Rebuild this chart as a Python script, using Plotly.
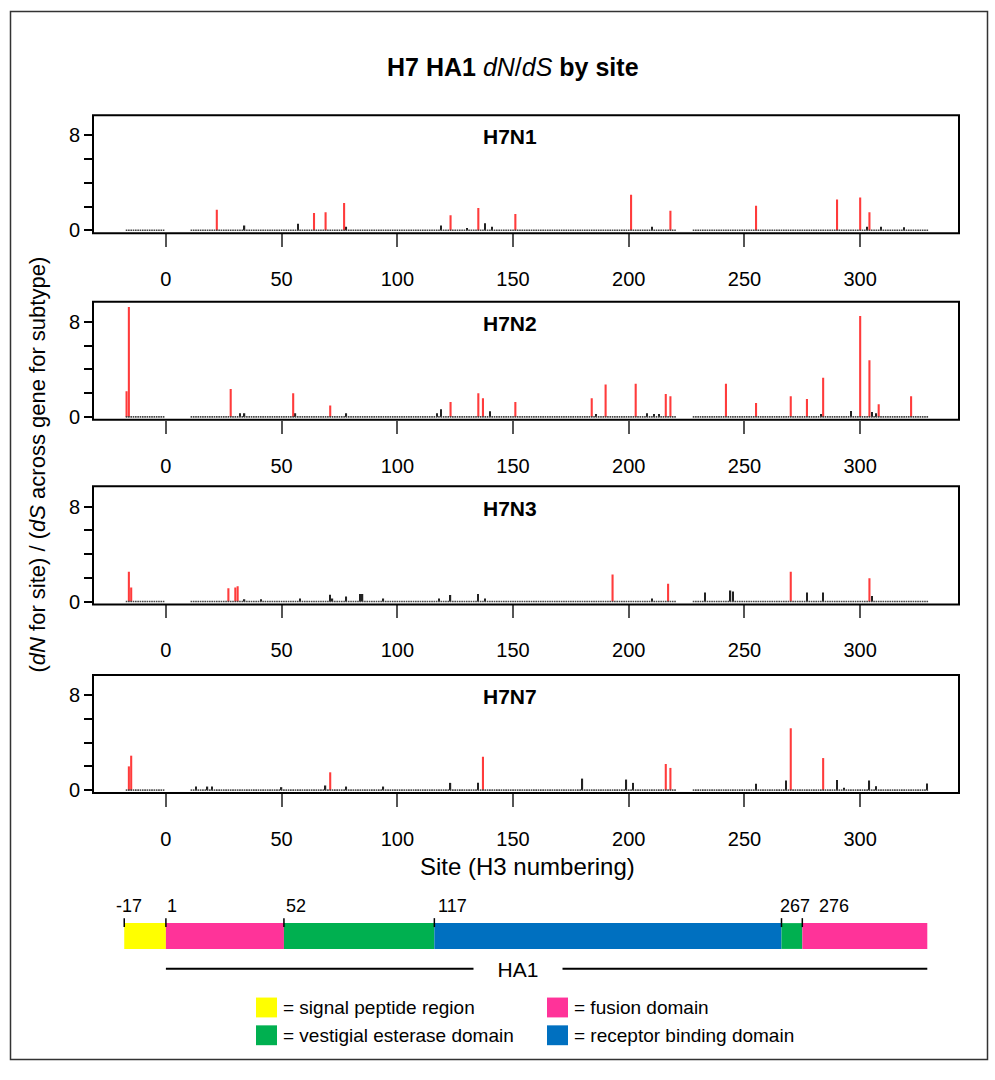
import plotly.graph_objects as go

W, H = 995, 1080

# Sites (H3 numbering) covered by the alignment in every subtype
SITE_RANGES = [(-17, -1), (11, 220), (228, 329)]
SUBTYPES = ["H7N1", "H7N2", "H7N3", "H7N7"]

# Sites whose dN/dS rises above zero, with the ratio; every other sampled site is 0
H7N1_SITES = [22, 34, 57, 64, 69, 77, 78, 119, 123, 130, 135, 138, 141, 151,
              201, 210, 218, 255, 290, 300, 303, 304, 309, 319]
H7N1_RATIOS = [1.73, 0.4, 0.55, 1.45, 1.53, 2.29, 0.3, 0.4, 1.26, 0.2, 1.87, 0.6, 0.3, 1.37,
               3.0, 0.3, 1.65, 2.06, 2.6, 2.76, 0.3, 1.53, 0.3, 0.25]
H7N1_SELECTED = [22, 64, 69, 77, 123, 135, 151, 201, 218, 255, 290, 300, 304]

H7N2_SITES = [-17, -16, 28, 32, 34, 55, 56, 71, 78, 117, 119, 123, 135, 137, 140, 151,
              184, 186, 190, 203, 208, 211, 213, 216, 218, 242, 255, 270, 277, 283, 284,
              296, 300, 304, 305, 307, 308, 322]
H7N2_RATIOS = [2.17, 9.25, 2.36, 0.3, 0.3, 2.0, 0.3, 0.97, 0.3, 0.3, 0.64, 1.25, 2.0, 1.58, 0.47, 1.25,
               1.58, 0.25, 2.72, 2.8, 0.3, 0.25, 0.25, 1.92, 1.75, 2.8, 1.17, 1.75, 1.5, 0.25, 3.3,
               0.5, 8.5, 4.78, 0.42, 0.3, 1.06, 1.75]
H7N2_SELECTED = [-17, -16, 28, 55, 71, 123, 135, 137, 151, 184, 190, 203, 216, 218,
                 242, 255, 270, 277, 284, 300, 304, 308, 322]

H7N3_SITES = [-16, -15, 27, 30, 31, 34, 41, 58, 71, 72, 78, 84, 85, 94, 118, 123, 135, 138,
              193, 210, 217, 233, 244, 245, 270, 277, 284, 304, 305]
H7N3_RATIOS = [2.5, 1.19, 1.11, 1.19, 1.28, 0.2, 0.2, 0.25, 0.58, 0.25, 0.42, 0.64, 0.64, 0.25,
               0.25, 0.55, 0.64, 0.25, 2.28, 0.25, 1.5, 0.75, 0.92, 0.85, 2.5, 0.75, 0.75, 1.97, 0.47]
H7N3_SELECTED = [-16, -15, 27, 30, 31, 193, 217, 270, 304]

H7N7_SITES = [-16, -15, 13, 18, 20, 50, 69, 71, 78, 94, 123, 135, 137, 180, 199, 202,
              216, 218, 255, 268, 270, 284, 290, 293, 304, 307, 329]
H7N7_RATIOS = [2.0, 2.9, 0.3, 0.3, 0.3, 0.25, 0.39, 1.5, 0.3, 0.3, 0.61, 0.61, 2.81, 0.97, 0.89, 0.61,
               2.2, 1.87, 0.53, 0.81, 5.21, 2.7, 0.86, 0.2, 0.81, 0.33, 0.56]
H7N7_SELECTED = [-16, -15, 71, 137, 216, 218, 270, 284]

PANEL_SITES = [H7N1_SITES, H7N2_SITES, H7N3_SITES, H7N7_SITES]
PANEL_RATIOS = [H7N1_RATIOS, H7N2_RATIOS, H7N3_RATIOS, H7N7_RATIOS]
PANEL_SELECTED = [H7N1_SELECTED, H7N2_SELECTED, H7N3_SELECTED, H7N7_SELECTED]

X_TICKS = [0, 50, 100, 150, 200, 250, 300]
Y_TICKS = [0, 2, 4, 6, 8]
Y_TICK_TEXT = ["0", "", "", "", "8"]

# HA1 domain map (first site of each region, H3 numbering)
DOMAIN_STARTS = [-17, 1, 52, 117, 267, 276]
DOMAIN_END = 329
DOMAIN_NAMES = ["signal peptide region", "fusion domain", "vestigial esterase domain",
                "receptor binding domain", "vestigial esterase domain", "fusion domain"]
DOMAIN_COLORS = {
    "signal peptide region": "#FFFF00",
    "fusion domain": "#FF3399",
    "vestigial esterase domain": "#00B050",
    "receptor binding domain": "#0070C0",
}
LEGEND_ORDER = ["signal peptide region", "fusion domain",
                "vestigial esterase domain", "receptor binding domain"]
HA1_START, HA1_END = 1, 329

FONT = "Liberation Sans, Arial, sans-serif"
X_RANGE = [-31.5, 342.7]
Y_RANGE = [-0.25, 9.7]
PLOT_L, PLOT_R = 93, 959
PANEL_BOXES = [(116, 235), (304, 423), (490, 609), (680, 799)]


def px_x(p):
    return p / W


def px_y(p):
    return 1 - p / H


def axis_id(n):
    return "" if n == 1 else str(n)


all_sites = [s for a, b in SITE_RANGES for s in range(a, b + 1)]

fig = go.Figure()
layout = dict(
    width=W, height=H, margin=dict(l=0, r=0, t=0, b=0),
    paper_bgcolor="white", plot_bgcolor="white",
    font=dict(family=FONT, color="black"),
    showlegend=False, barmode="overlay",
)
shapes, annotations = [], []

for i, name in enumerate(SUBTYPES):
    n = i + 1
    aid = axis_id(n)
    xa, ya = f"x{aid}", f"y{aid}"
    ratio = dict(zip(PANEL_SITES[i], PANEL_RATIOS[i]))
    selected = set(PANEL_SELECTED[i])
    vals = [ratio.get(s, 0.0) for s in all_sites]

    # every sampled site gets a dot on the baseline
    fig.add_trace(go.Scatter(
        x=all_sites, y=[0] * len(all_sites), mode="markers",
        marker=dict(symbol="square", size=1.6, color="#444444", line=dict(width=0)),
        xaxis=xa, yaxis=ya, hoverinfo="skip"))
    bx = [s for s, v in zip(all_sites, vals) if v > 0 and s not in selected]
    by = [v for s, v in zip(all_sites, vals) if v > 0 and s not in selected]
    fig.add_trace(go.Bar(x=bx, y=by, width=0.55, marker=dict(color="#222222", line=dict(width=0)),
                         xaxis=xa, yaxis=ya))
    rx = [s for s, v in zip(all_sites, vals) if s in selected]
    ry = [v for s, v in zip(all_sites, vals) if s in selected]
    fig.add_trace(go.Bar(x=rx, y=ry, width=0.9, marker=dict(color="#FF3B3B", line=dict(width=0)),
                         xaxis=xa, yaxis=ya))

    top, bot = PANEL_BOXES[i]
    layout[f"xaxis{aid}"] = dict(
        domain=[px_x(PLOT_L), px_x(PLOT_R)], range=X_RANGE, anchor=ya,
        tickvals=X_TICKS, ticks="outside", ticklen=13, tickwidth=1.5, tickcolor="#555555",
        showline=False, showgrid=False, zeroline=False, ticklabelstandoff=15,
        tickfont=dict(family=FONT, size=20, color="black"))
    layout[f"yaxis{aid}"] = dict(
        domain=[px_y(bot), px_y(top)], range=Y_RANGE, anchor=xa,
        tickvals=Y_TICKS, ticktext=Y_TICK_TEXT, ticks="outside", ticklen=8, tickwidth=1.5,
        tickcolor="black", showline=False, showgrid=False, zeroline=False,
        tickfont=dict(family=FONT, size=20, color="black"))
    shapes.append(dict(type="rect", xref=f"{xa} domain", yref=f"{ya} domain",
                       x0=0, x1=1, y0=0, y1=1, line=dict(color="black", width=2)))
    annotations.append(dict(text=f"<b>{name}</b>", xref="paper", yref="paper",
                            x=px_x(510), y=px_y(top + 22), showarrow=False,
                            xanchor="center", yanchor="middle",
                            font=dict(family=FONT, size=21)))

# Domain map below the panels, on the same site scale
bar_top, bar_bot = 930, 956
edges = [s - 1 for s in DOMAIN_STARTS] + [DOMAIN_END]
for k, dom in enumerate(DOMAIN_NAMES):
    fig.add_trace(go.Bar(
        y=[0.5], x=[edges[k + 1] - edges[k]], base=[edges[k]], orientation="h", width=1.0,
        marker=dict(color=DOMAIN_COLORS[dom], line=dict(width=0)),
        xaxis="x5", yaxis="y5", hoverinfo="skip"))
layout["xaxis5"] = dict(domain=[px_x(PLOT_L), px_x(PLOT_R)], range=X_RANGE, visible=False, anchor="y5")
layout["yaxis5"] = dict(domain=[px_y(bar_bot), px_y(bar_top)], range=[0, 1], visible=False, anchor="x5")

label_shift = [-10, -1, 0, 2, -4, 15]
for k, s in enumerate(DOMAIN_STARTS):
    shapes.append(dict(type="line", xref="x5", yref="paper", x0=s - 1, x1=s - 1,
                       y0=px_y(925), y1=px_y(934), line=dict(color="black", width=1.5)))
    annotations.append(dict(text=str(s), xref="x5", yref="paper", x=s - 1, y=px_y(913),
                            xanchor="left", yanchor="middle", xshift=label_shift[k],
                            showarrow=False, font=dict(family=FONT, size=18)))

# HA1 span
shapes.append(dict(type="line", xref="x5", yref="paper", x0=HA1_START - 1, x1=HA1_END,
                   y0=px_y(976), y1=px_y(976), line=dict(color="black", width=2)))
annotations.append(dict(text="HA1", xref="paper", yref="paper", x=px_x(518), y=px_y(977),
                        xanchor="center", yanchor="middle", showarrow=False, width=86,
                        bgcolor="white", font=dict(family=FONT, size=21)))

# Colour key
key_pos = [(256, 1005), (547, 1005), (256, 1033), (547, 1033)]
for dom, (kx, ky) in zip(LEGEND_ORDER, key_pos):
    shapes.append(dict(type="rect", xref="paper", yref="paper",
                       x0=px_x(kx), x1=px_x(kx + 21), y0=px_y(ky + 20), y1=px_y(ky),
                       fillcolor=DOMAIN_COLORS[dom], line=dict(width=0)))
    annotations.append(dict(text=f"= {dom}", xref="paper", yref="paper",
                            x=px_x(kx + 25), y=px_y(ky + 10), xanchor="left", yanchor="middle",
                            showarrow=False, font=dict(family=FONT, size=19)))

# Titles
annotations.append(dict(text="<b>H7 HA1 </b><i>dN</i>/<i>dS</i><b> by site</b>",
                        xref="paper", yref="paper", x=px_x(513), y=px_y(67),
                        xanchor="center", yanchor="middle", showarrow=False,
                        font=dict(family=FONT, size=25)))
annotations.append(dict(text="Site (H3 numbering)", xref="paper", yref="paper",
                        x=px_x(527), y=px_y(873), xanchor="center", yanchor="middle",
                        showarrow=False, font=dict(family=FONT, size=24)))
annotations.append(dict(text="(<i>dN</i> for site) / (<i>dS</i> across gene for subtype)",
                        xref="paper", yref="paper", x=px_x(38), y=px_y(468), textangle=-90,
                        xanchor="center", yanchor="middle", showarrow=False,
                        font=dict(family=FONT, size=22)))

# Outer frame
shapes.append(dict(type="rect", xref="paper", yref="paper",
                   x0=px_x(10.5), x1=px_x(987.5), y0=px_y(1067.5), y1=px_y(11.5),
                   line=dict(color="#333333", width=1.5)))

layout["shapes"] = shapes
layout["annotations"] = annotations
fig.update_layout(**layout)
fig.write_html("out.html")
